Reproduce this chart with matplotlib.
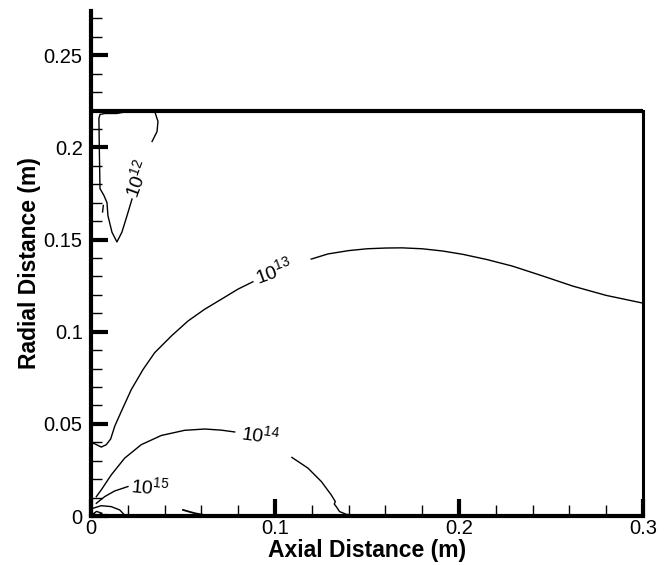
import numpy as np
import matplotlib
matplotlib.use("Agg")
import matplotlib.pyplot as plt
from matplotlib.ticker import MultipleLocator, FormatStrFormatter

plt.rcParams['font.family'] = ['Liberation Sans', 'DejaVu Sans']
plt.rcParams['mathtext.fontset'] = 'custom'
plt.rcParams['mathtext.it'] = 'Liberation Sans:italic'
plt.rcParams['mathtext.rm'] = 'Liberation Sans'

# ---- contour lines (x = axial, y = radial, metres) ----
# 1e12, split by its label
c12_a_x = [0.0332, 0.0359, 0.0364, 0.0348]
c12_a_y = [0.2032, 0.2086, 0.2141, 0.2190]
c12_b_x = [0.0196, 0.0141, 0.0076, 0.0049, 0.0043, 0.0046, 0.0049, 0.0070, 0.0087,
           0.0092, 0.0114, 0.0141, 0.0168, 0.0196, 0.0223]
c12_b_y = [0.2195, 0.2184, 0.2184, 0.2179, 0.2157, 0.1950, 0.1776, 0.1740, 0.1700,
           0.1630, 0.1540, 0.1487, 0.1540, 0.1630, 0.1720]
c12_dot_x = [0.0063, 0.0067]
c12_dot_y = [0.1650, 0.1685]

# 1e13
c13_a_x = [0.0, 0.002, 0.0056, 0.0083, 0.0107, 0.0129, 0.0165, 0.0219, 0.0283,
           0.0346, 0.0437, 0.0527, 0.0618, 0.0708, 0.0799, 0.088]
c13_a_y = [0.0398, 0.0392, 0.0374, 0.0387, 0.0418, 0.0487, 0.0568, 0.0686, 0.0795,
           0.0886, 0.0977, 0.1058, 0.1122, 0.1176, 0.1231, 0.1271]
c13_b_x = [0.1197, 0.1288, 0.140, 0.150, 0.160, 0.169, 0.180, 0.191, 0.202, 0.215,
           0.229, 0.245, 0.262, 0.280, 0.300]
c13_b_y = [0.1394, 0.1422, 0.1440, 0.1450, 0.1454, 0.1455, 0.1450, 0.1438, 0.142,
           0.1392, 0.1356, 0.1304, 0.1247, 0.1197, 0.1155]

# 1e14
c14_a_x = [0.0029, 0.0056, 0.011, 0.0183, 0.0273, 0.0382, 0.0509, 0.0618, 0.0708, 0.0781]
c14_a_y = [0.0105, 0.0142, 0.0223, 0.0314, 0.0387, 0.0437, 0.0465, 0.0472, 0.0466, 0.0456]
c14_b_x = [0.1092, 0.1179, 0.1252, 0.1306, 0.1328, 0.1322, 0.1333, 0.1351, 0.1388, 0.146]
c14_b_y = [0.0318, 0.0260, 0.0187, 0.0114, 0.0078, 0.0065, 0.0051, 0.0024, 0.0009, 0.0003]

# 1e15 and small closed pieces near the axis
c15_x = [0.0029, 0.0074, 0.0129, 0.0201]
c15_y = [0.0069, 0.0105, 0.0136, 0.0160]
c15_arc_x = [0.0011, 0.0056, 0.011, 0.0156, 0.0183]
c15_arc_y = [0.0042, 0.0056, 0.0051, 0.0033, 0.0005]
c15_loop_x = [0.001, 0.003, 0.006, 0.004, 0.001]
c15_loop_y = [0.001, 0.0025, 0.0015, 0.0005, 0.001]
c15_low_x = [0.050, 0.0564, 0.0618, 0.070, 0.076]
c15_low_y = [0.0033, 0.0015, 0.0005, 0.0003, 0.0003]

# label positions (x, y, rotation)
labels = ['10^{12}', '10^{13}', '10^{14}', '10^{15}']
label_x = [0.025, 0.0995, 0.092, 0.032]
label_y = [0.183, 0.133, 0.0441, 0.0158]
label_rot = [70, 20, -8, -5]

wall_r = 0.22
x_max = 0.3
y_max = 0.274

fig = plt.figure(figsize=(6.7, 5.65), dpi=100)
ax = fig.add_axes([0.1358, 0.0867, 0.8239, 0.8938])

lines = [(c12_a_x, c12_a_y), (c12_b_x, c12_b_y), (c12_dot_x, c12_dot_y),
         (c13_a_x, c13_a_y), (c13_b_x, c13_b_y),
         (c14_a_x, c14_a_y), (c14_b_x, c14_b_y),
         (c15_x, c15_y), (c15_arc_x, c15_arc_y), (c15_loop_x, c15_loop_y)]
for lx, ly in lines:
    ax.plot(lx, ly, color='black', lw=1.0)
ax.plot(c15_low_x, c15_low_y, color='black', lw=1.3)

for t, lx, ly, r in zip(labels, label_x, label_y, label_rot):
    ax.text(lx, ly, r'$\mathit{' + t + '}$', fontsize=14,
            rotation=r, ha='center', va='center', rotation_mode='anchor')

# the wall at r = 0.22
ax.plot([0, x_max], [wall_r, wall_r], color='black', lw=3, solid_capstyle='butt', clip_on=False)

ax.set_xlim(0, x_max)
ax.set_ylim(0, y_max)

ax.spines['top'].set_visible(False)
ax.spines['right'].set_bounds(0, wall_r)
ax.spines['right'].set_linewidth(2.2)
ax.spines['left'].set_linewidth(3)
ax.spines['bottom'].set_linewidth(3)

ax.xaxis.set_major_locator(MultipleLocator(0.1))
ax.xaxis.set_minor_locator(MultipleLocator(0.02))
ax.yaxis.set_major_locator(MultipleLocator(0.05))
ax.yaxis.set_minor_locator(MultipleLocator(0.01))
ax.xaxis.set_major_formatter(FormatStrFormatter('%g'))
ax.yaxis.set_major_formatter(FormatStrFormatter('%g'))

ax.tick_params(which='major', direction='in', length=12, width=3, labelsize=14.5)
ax.tick_params(which='minor', direction='in', length=8, width=1)
ax.tick_params(axis='y', which='both', right=False, pad=6)
ax.tick_params(axis='x', which='both', top=False, pad=2)

ax.set_xlabel('Axial Distance (m)', fontsize=16.5, fontweight='bold', labelpad=1)
ax.set_ylabel('Radial Distance (m)', fontsize=16.5, fontweight='bold', labelpad=2)

fig.savefig('out.png', dpi=100)
